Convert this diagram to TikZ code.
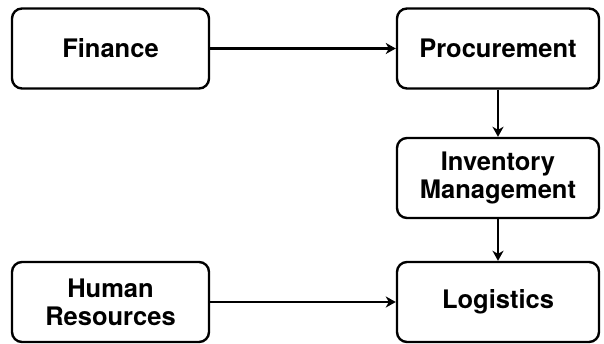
\documentclass[tikz,border=0pt]{standalone}
\usepackage{fontspec}
\setmainfont{TeX Gyre Heros}
\usetikzlibrary{arrows.meta}

\begin{document}
\begin{tikzpicture}
  [x=1pt,y=-1pt,
   every node/.style={draw,rounded corners=10pt,line width=2.4pt,align=center,
     minimum height=80pt,font=\fontsize{25.5}{28}\selectfont\bfseries},
   leftbox/.style={minimum width=197pt},
   rightbox/.style={minimum width=202pt},
   arr/.style={line width=2.4pt,-{Stealth[length=10pt,width=11pt,inset=3pt]}}]

  \useasboundingbox (0,0) rectangle (604,344);

  \node [leftbox] (F) at (110.5,48.5) {Finance};
  \node [rightbox] (P) at (498,48.5) {Procurement};
  \node [rightbox] (I) at (498,178) {Inventory\\Management};
  \node [leftbox] (H) at (110.5,302) {Human\\Resources};
  \node [rightbox] (L) at (498,302) {Logistics};

  \foreach \from/\to in {F/P,P/I,I/L,H/L}
    \draw [arr] (\from) -- (\to);
\end{tikzpicture}
\end{document}
